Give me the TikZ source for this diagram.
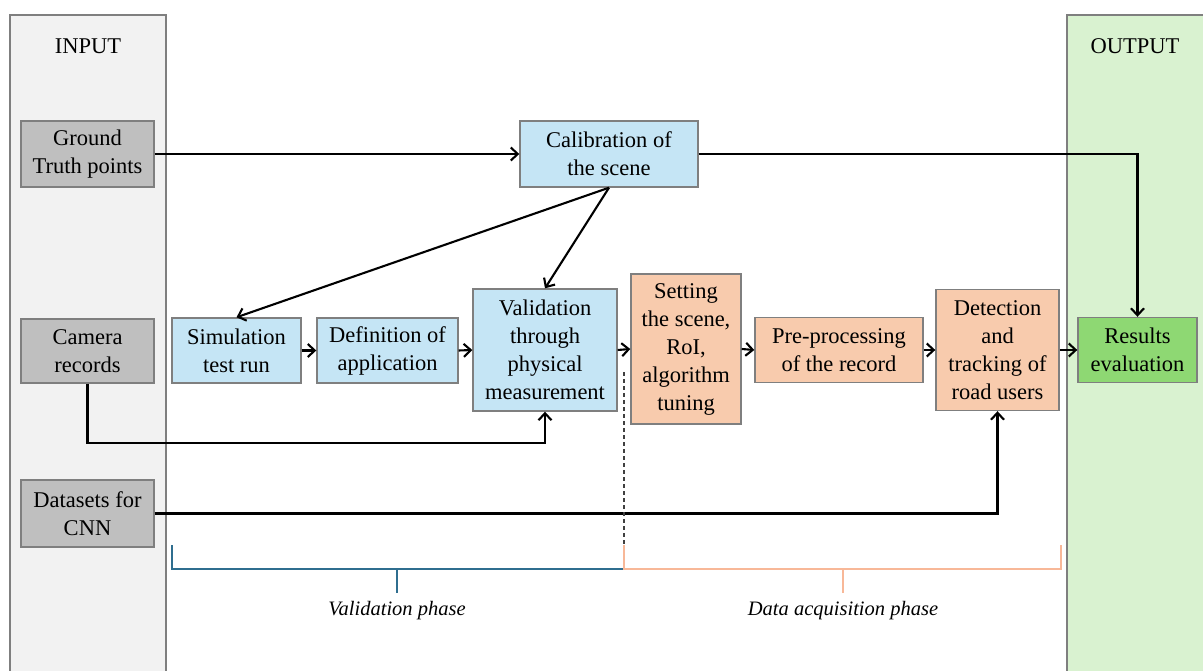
\documentclass[tikz,border=0pt]{standalone}
\usepackage{fontspec}
\setmainfont{Liberation Serif}
\usetikzlibrary{arrows.meta}

\definecolor{inbg}{HTML}{F2F2F2}
\definecolor{outbg}{HTML}{D9F2D0}
\definecolor{panelline}{HTML}{7F7F7F}
\definecolor{srcfill}{HTML}{BFBFBF}
\definecolor{bluefill}{HTML}{C5E5F5}
\definecolor{orangefill}{HTML}{F8CBAD}
\definecolor{greenfill}{HTML}{8ED873}
\definecolor{valphase}{HTML}{2F6E8F}
\definecolor{acqphase}{HTML}{F8B898}

\tikzset{
  box/.style={draw=panelline, line width=1.4pt, inner sep=0pt, align=center,
    font=\fontsize{22.5}{28}\selectfont},
  srcbox/.style={box, fill=srcfill},
  bluebox/.style={box, fill=bluefill},
  orangebox/.style={box, fill=orangefill},
  greenbox/.style={box, fill=greenfill},
  panel/.style={draw=panelline, line width=1.8pt},
  flow/.style={draw=black, line width=2.1pt,
    -{Straight Barb[length=7pt,width=13pt]}},
  bracketline/.style={line width=2.2pt},
  phaselabel/.style={font=\fontsize{20.5}{24}\selectfont\itshape},
  paneltitle/.style={font=\fontsize{22.5}{28}\selectfont}
}

\begin{document}
\begin{tikzpicture}[x=1pt,y=-1pt]
\clip (0,0) rectangle (1203,671);
\fill[white] (0,0) rectangle (1203,671);

% side panels
\filldraw[panel, fill=inbg] (10,15) rectangle (166,690);
\filldraw[panel, fill=outbg] (1067,15) rectangle (1215,690);
\node[paneltitle] (intitle) at (88,46) {INPUT};
\node[paneltitle] (outtitle) at (1135,46) {OUTPUT};

% inputs
\node[srcbox, minimum width=133pt, minimum height=66pt] (gt) at (87.5,154) {Ground\\Truth points};
\node[srcbox, minimum width=133pt, minimum height=64pt] (cam) at (87.5,351) {Camera\\records};
\node[srcbox, minimum width=133pt, minimum height=67pt] (data) at (87.5,513.5) {Datasets for\\CNN};

% validation phase
\node[bluebox, minimum width=178pt, minimum height=66pt] (calib) at (609,154) {Calibration of\\the scene};
\node[bluebox, minimum width=129pt, minimum height=65pt] (sim) at (236.5,350.5) {Simulation\\test run};
\node[bluebox, minimum width=141pt, minimum height=65pt] (def) at (387.5,350.5) {Definition of\\application};
\node[bluebox, minimum width=144pt, minimum height=122pt] (val) at (545,350) {Validation\\through\\physical\\measurement};

% data acquisition phase
\node[orangebox, minimum width=110pt, minimum height=150pt] (set) at (686,349) {Setting\\the scene,\\RoI,\\algorithm\\tuning};
\node[orangebox, minimum width=168pt, minimum height=65pt] (pre) at (839,350) {Pre-processing\\of the record};
\node[orangebox, minimum width=123pt, minimum height=121pt] (det) at (997.5,350) {Detection\\and\\tracking of\\road users};

% output
\node[greenbox, minimum width=119pt, minimum height=65pt] (res) at (1137.5,350) {Results\\evaluation};

% connectors
\draw[flow] (gt.east) -- (calib.west);
\draw[flow] (calib.east) -| (res.north);
\draw[flow] (calib.south) -- (sim.north);
\draw[flow] (calib.south) -- (val.north);
\draw[flow] (sim.east) -- (def.west);
\draw[flow] (def.east) -- (val.west);
\draw[flow] (val.east) -- (set.west);
\draw[flow] (set.east) -- (pre.west);
\draw[flow] (pre.east) -- (det.west);
\draw[flow] (det.east) -- (res.west);
\coordinate (camturn) at (87.5,443);
\draw[flow] (cam.south) -- (camturn) -| (val.south);
\draw[flow] (data.east) -| (det.south);

% phase separator
\coordinate (septop) at (624,372);
\coordinate (sepbot) at (624,545);
\draw[black!75, line width=1.1pt, dash pattern=on 4pt off 3pt] (septop) -- (sepbot);

% phase brackets
\coordinate (vl) at (172,545);
\coordinate (vm) at (397,569);
\coordinate (ar) at (1061,545);
\coordinate (am) at (843,569);
\draw[bracketline, valphase] (vl) -- (172,569) -- (624,569);
\draw[bracketline, valphase] (vm) -- (397,593);
\draw[bracketline, acqphase] (sepbot) -- (624,569) -- (1061,569) -- (ar);
\draw[bracketline, acqphase] (am) -- (843,593);
\node[phaselabel] (vlabel) at (397,611) {Validation phase};
\node[phaselabel] (alabel) at (843,611) {Data acquisition phase};
\end{tikzpicture}
\end{document}
